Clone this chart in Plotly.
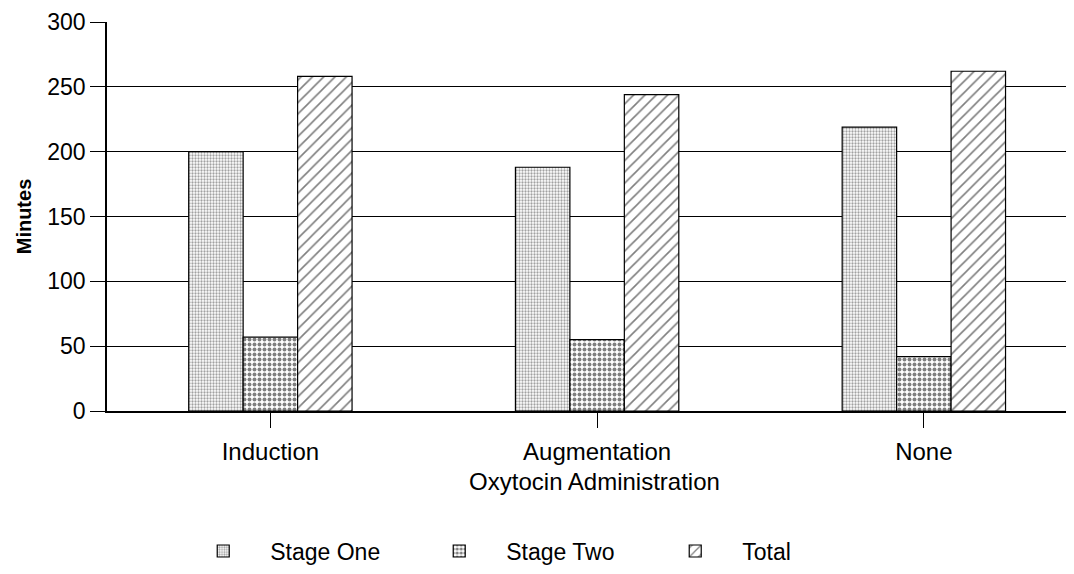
''' Oxytocin administration vs labour duration (grouped bars) '''
import plotly.graph_objects as go

# Data
categories = ['Induction', 'Augmentation', 'None']
stage_one = [200, 188, 219]
stage_two = [57, 55, 42]
total = [258, 244, 262]

y_ticks = [0, 50, 100, 150, 200, 250, 300]

FONT = 'Liberation Sans, Arial, sans-serif'

fig = go.Figure()

fig.add_trace(
    go.Bar(
        x=categories,
        y=stage_one,
        name='Stage One',
        marker=dict(
            color='white',
            line=dict(color='black', width=1.2),
            pattern=dict(shape='.', size=3, solidity=0.45, fgcolor='#444444', bgcolor='white'),
        ),
    )
)

fig.add_trace(
    go.Bar(
        x=categories,
        y=stage_two,
        name='Stage Two',
        marker=dict(
            color='white',
            line=dict(color='black', width=1.2),
            pattern=dict(shape='.', size=5, solidity=0.5, fgcolor='black', bgcolor='white'),
        ),
    )
)

fig.add_trace(
    go.Bar(
        x=categories,
        y=total,
        name='Total',
        marker=dict(
            color='white',
            line=dict(color='black', width=1.2),
            pattern=dict(shape='/', size=8, solidity=0.2, fgcolor='black', bgcolor='white'),
        ),
    )
)

# page body adds 8px, so margins are shifted to compensate
fig.update_xaxes(
    range=[-0.5, 2.484],
    showline=True,
    linecolor='black',
    linewidth=1.5,
    ticks='outside',
    ticklen=15,
    tickcolor='black',
    tickwidth=1,
    ticklabelstandoff=3,
    tickfont=dict(size=24, color='black'),
    title=dict(text='Oxytocin Administration', font=dict(size=24, color='black'), standoff=10),
    showgrid=False,
)

fig.update_yaxes(
    range=[0, 300],
    tickvals=y_ticks,
    showline=True,
    linecolor='black',
    linewidth=1.5,
    ticks='outside',
    ticklen=15,
    tickcolor='black',
    tickwidth=1,
    tickfont=dict(size=23, color='black'),
    showgrid=True,
    gridcolor='black',
    gridwidth=1,
    zeroline=False,
    title=dict(text='Minutes', font=dict(size=20, color='black', weight='bold'), standoff=10),
)

fig.update_layout(
    width=1074,
    height=574,
    barmode='group',
    bargap=0.5,
    bargroupgap=0,
    plot_bgcolor='white',
    paper_bgcolor='white',
    font=dict(family=FONT, color='black'),
    margin=dict(l=99, r=0, t=14, b=171, autoexpand=False),
    legend=dict(
        orientation='h',
        x=0.071,
        xanchor='left',
        y=-0.36,
        yanchor='middle',
        font=dict(size=23, color='black'),
        itemwidth=84,
        entrywidth=137,
        entrywidthmode='pixels',
        bgcolor='rgba(0,0,0,0)',
    ),
)

fig.write_html('out.html')
